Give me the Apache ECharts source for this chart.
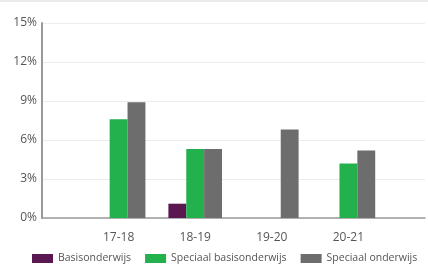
<!DOCTYPE html>
<html>
<head>
<meta charset="utf-8">
<script src="https://cdn.jsdelivr.net/npm/echarts@6/dist/echarts.min.js"></script>
<style>
  html, body { margin: 0; padding: 0; background: #fff; }
  #main { width: 428px; height: 269px; }
</style>
</head>
<body>
<div id="main"></div>
<script>
var categories = ['17-18', '18-19', '19-20', '20-21'];
var basisonderwijs = [0, 1.1, 0, 0];
var speciaalBasis = [7.6, 5.3, 0, 4.2];
var speciaalOnderwijs = [8.9, 5.3, 6.8, 5.2];
var seriesNames = ['Basisonderwijs', 'Speciaal basisonderwijs', 'Speciaal onderwijs'];
var colors = ['#5b1750', '#22b14c', '#6d6d6d'];

// lege plek voor en na de categorieen, zodat de groepen op de ticks staan
function pad(arr, empty) {
    return [empty].concat(arr, [empty]);
}

var dom = document.getElementById('main');
var myChart = echarts.init(dom);
var font = '"Open Sans", sans-serif';

var option = {
    backgroundColor: '#ffffff',
    animation: false,
    color: colors,
    textStyle: { fontFamily: font },
    graphic: [{
        type: 'line',
        shape: { x1: 0, y1: 1, x2: 428, y2: 1 },
        style: { stroke: '#ebebeb', lineWidth: 2 }
    }],
    grid: {
        left: 42,
        top: 23,
        bottom: 51,
        width: 401
    },
    legend: {
        bottom: 0,
        left: 27,
        itemWidth: 21,
        itemHeight: 9,
        itemGap: 14,
        icon: 'rect',
        textStyle: { fontSize: 10.5, color: '#555', fontFamily: font },
        data: seriesNames
    },
    xAxis: {
        type: 'category',
        boundaryGap: false,
        data: pad(categories, ''),
        axisLine: { lineStyle: { color: '#9a9a9a', width: 1.5 } },
        axisTick: { show: false },
        axisLabel: { color: '#555', fontSize: 12, margin: 14, fontFamily: font }
    },
    yAxis: {
        type: 'value',
        min: 0,
        max: 15,
        interval: 3,
        axisLine: { show: true, lineStyle: { color: '#9a9a9a', width: 2 } },
        axisTick: { show: false },
        axisLabel: { formatter: '{value}%', color: '#555', fontSize: 12, margin: 5, fontFamily: font },
        splitLine: { lineStyle: { color: '#ececec', width: 1 } }
    },
    series: [
        { name: seriesNames[0], type: 'bar', data: pad(basisonderwijs, '-'), barGap: 0, barCategoryGap: '30%' },
        { name: seriesNames[1], type: 'bar', data: pad(speciaalBasis, '-'), barGap: 0, barCategoryGap: '30%' },
        { name: seriesNames[2], type: 'bar', data: pad(speciaalOnderwijs, '-'), barGap: 0, barCategoryGap: '30%' }
    ]
};

myChart.setOption(option, true);
</script>
</body>
</html>
